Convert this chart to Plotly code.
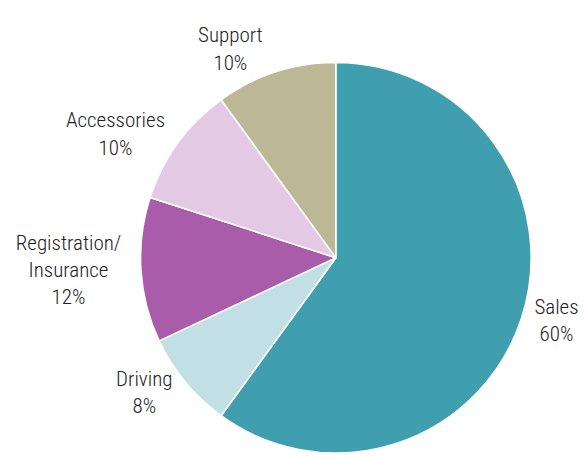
import plotly.graph_objects as go

# Revenue split, read clockwise from 12 o'clock
categories = ["Sales", "Driving", "Registration/<br>Insurance", "Accessories", "Support"]
shares = [60, 8, 12, 10, 10]
colors = ["#409faf", "#c1dfe4", "#a95ca9", "#e3c9e4", "#bcb794"]

# page body adds an 8px offset, so the figure is 8px smaller and the domain nudged to compensate
fig = go.Figure(go.Pie(
    labels=categories,
    values=shares,
    sort=False,
    direction="clockwise",
    rotation=0,
    marker=dict(colors=colors, line=dict(color="white", width=1.5)),
    texttemplate="%{label}<br>%{percent:.0%}",
    textposition="outside",
    textfont=dict(size=21, color="#222222", weight=300),
    hoverinfo="label+percent",
    domain=dict(x=[0.2266, 0.9083], y=[0.0022, 0.8778]),
    showlegend=False,
))

fig.update_layout(
    width=578,
    height=450,
    margin=dict(t=0, l=0, r=0, b=0),
    paper_bgcolor="white",
    font=dict(family="'Roboto Condensed', 'Liberation Sans Narrow', 'Arial Narrow', sans-serif", color="#222222"),
)

fig.write_html("out.html")
